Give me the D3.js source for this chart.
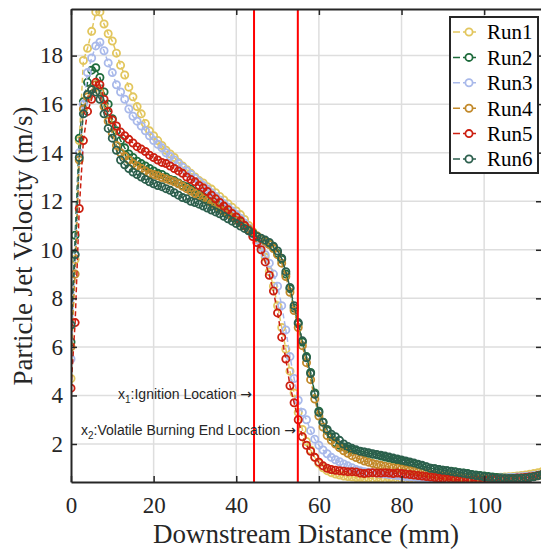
<!DOCTYPE html>
<html>
<head>
<meta charset="utf-8">
<script src="https://cdn.jsdelivr.net/npm/d3@7"></script>
<style>
  body { margin: 0; background: #fff; }
  svg { display: block; }
  .serif { font-family: "Liberation Serif", "Times New Roman", serif; }
  .sans { font-family: "Liberation Sans", Arial, sans-serif; }
</style>
</head>
<body>
<svg id="chart" width="541" height="550"></svg>
<script>
"use strict";

// downstream distance of each sample (mm)
const distance = [
  0, 1, 2, 3, 4, 5, 6, 7, 8, 9,
  10, 11, 12, 13, 14, 15, 16, 17, 18, 19,
  20, 21, 22, 23, 24, 25, 26, 27, 28, 29,
  30, 31, 32, 33, 34, 35, 36, 37, 38, 39,
  40, 41, 42, 43, 44, 45, 46, 47, 48, 49,
  50, 51, 52, 53, 54, 55, 56, 57, 58, 59,
  60, 61, 62, 63, 64, 65, 66, 67, 68, 69,
  70, 71, 72, 73, 74, 75, 76, 77, 78, 79,
  80, 81, 82, 83, 84, 85, 86, 87, 88, 89,
  90, 91, 92, 93, 94, 95, 96, 97, 98, 99,
  100, 101, 102, 103, 104, 105, 106, 107, 108, 109,
  110, 111, 112, 113, 114
];

// particle jet velocity (m/s), one list per run
const run1 = [
  4.7, 9.6, 14.5, 17.8, 18.3, 19.0, 19.8, 19.8, 19.3, 18.9,
  18.6, 18.1, 17.6, 17.2, 16.7, 16.3, 15.9, 15.6, 15.2, 14.9,
  14.7, 14.5, 14.3, 14.1, 13.95, 13.8, 13.6, 13.45, 13.3, 13.15,
  13.0, 12.85, 12.75, 12.6, 12.5, 12.35, 12.2, 12.05, 11.9, 11.75,
  11.6, 11.45, 11.25, 11.0, 10.75, 10.45, 10.15, 9.7, 9.1, 8.5,
  7.7, 6.8, 5.9, 5.0, 4.1, 3.3, 2.6, 2.1, 1.75, 1.45,
  1.2, 1.02, 0.9, 0.82, 0.76, 0.72, 0.68, 0.66, 0.64, 0.62,
  0.62, 0.6, 0.6, 0.58, 0.6, 0.58, 0.56, 0.58, 0.56, 0.55,
  0.56, 0.55, 0.56, 0.54, 0.55, 0.56, 0.55, 0.54, 0.55, 0.56,
  0.55, 0.56, 0.55, 0.56, 0.57, 0.56, 0.57, 0.58, 0.57, 0.58,
  0.6, 0.6, 0.62, 0.62, 0.63, 0.64, 0.65, 0.66, 0.68, 0.7,
  0.72, 0.75, 0.78, 0.82, 0.86
];
const run2 = [
  6.2, 10.6, 14.6, 16.1, 16.9, 17.4, 17.5, 17.1, 16.5, 16.0,
  15.4, 14.9, 14.5, 14.2, 13.95, 13.8, 13.65, 13.55, 13.45, 13.35,
  13.25, 13.15, 13.1, 13.0, 12.9, 12.85, 12.75, 12.65, 12.6, 12.5,
  12.4, 12.3, 12.2, 12.1, 12.0, 11.9, 11.8, 11.65, 11.55, 11.4,
  11.3, 11.15, 11.0, 10.85, 10.7, 10.55, 10.45, 10.35, 10.25, 10.1,
  9.85, 9.6, 9.0, 8.4, 7.6, 6.95, 6.2, 5.6, 4.95, 4.1,
  3.35, 2.9, 2.55, 2.3, 2.05, 1.95, 1.88, 1.8, 1.75, 1.72,
  1.69, 1.66, 1.62, 1.58, 1.55, 1.5, 1.46, 1.42, 1.38, 1.34,
  1.3, 1.26, 1.22, 1.18, 1.14, 1.1, 1.05, 1.0, 0.98, 0.95,
  0.92, 0.9, 0.88, 0.86, 0.82, 0.8, 0.78, 0.74, 0.72, 0.7,
  0.68, 0.66, 0.64, 0.62, 0.62, 0.6, 0.6, 0.6, 0.6, 0.6,
  0.62, 0.64, 0.66, 0.7, 0.74
];
const run3 = [
  5.5, 9.8, 14.0, 16.0, 17.3, 17.9, 18.4, 18.55, 18.2, 17.7,
  17.3, 16.8, 16.5, 16.2, 15.8, 15.5, 15.3, 15.1, 14.9, 14.7,
  14.5, 14.35, 14.2, 14.0, 13.85, 13.7, 13.55, 13.4, 13.25, 13.1,
  12.95, 12.8, 12.65, 12.5, 12.35, 12.2, 12.05, 11.9, 11.75, 11.6,
  11.45, 11.3, 11.1, 10.9, 10.65, 10.4, 10.1, 9.8, 9.45, 9.0,
  8.5, 7.7, 6.7, 5.6, 4.7, 3.8, 3.3, 3.0, 2.55, 2.2,
  1.95, 1.75, 1.6, 1.45, 1.35, 1.27, 1.18, 1.1, 1.02, 0.95,
  0.9, 0.86, 0.84, 0.82, 0.8, 0.78, 0.76, 0.74, 0.72, 0.7,
  0.68, 0.66, 0.65, 0.64, 0.62, 0.62, 0.6, 0.6, 0.58, 0.58,
  0.57, 0.56, 0.56, 0.55, 0.55, 0.54, 0.55, 0.54, 0.55, 0.56,
  0.56, 0.57, 0.58, 0.58, 0.6, 0.6, 0.62, 0.62, 0.64, 0.65,
  0.66, 0.68, 0.7, 0.72, 0.74
];
const run4 = [
  6.0, 9.0, 13.7, 15.8, 16.3, 16.6, 16.8, 16.5, 15.9, 15.3,
  14.8, 14.3, 14.0, 13.85, 13.7, 13.55, 13.45, 13.35, 13.25, 13.15,
  13.1, 13.05, 12.98, 12.92, 12.86, 12.8, 12.72, 12.62, 12.52, 12.42,
  12.32, 12.22, 12.12, 12.02, 11.92, 11.82, 11.7, 11.58, 11.46, 11.34,
  11.22, 11.1, 10.98, 10.86, 10.72, 10.58, 10.45, 10.35, 10.22, 10.05,
  9.8, 9.45, 8.9, 8.25, 7.5, 6.8, 6.05, 5.35, 4.65, 3.85,
  3.15, 2.7, 2.35, 2.15, 2.0, 1.85, 1.72, 1.62, 1.52, 1.44,
  1.37, 1.3, 1.25, 1.2, 1.16, 1.12, 1.08, 1.05, 1.02, 1.0,
  0.97, 0.94, 0.91, 0.88, 0.85, 0.82, 0.79, 0.76, 0.73, 0.7,
  0.68, 0.66, 0.64, 0.62, 0.61, 0.6, 0.59, 0.58, 0.58, 0.57,
  0.57, 0.56, 0.56, 0.56, 0.57, 0.57, 0.58, 0.58, 0.59, 0.6,
  0.62, 0.64, 0.66, 0.69, 0.72
];
const run5 = [
  4.3, 7.0, 11.7, 14.5, 15.7, 16.2, 16.9, 16.8, 16.2, 15.7,
  15.35, 15.1, 14.85, 14.7, 14.55, 14.4, 14.25, 14.15, 14.05, 13.9,
  13.8, 13.7, 13.6, 13.55, 13.45, 13.35, 13.25, 13.15, 13.0, 12.9,
  12.8, 12.65, 12.55, 12.4, 12.25, 12.1, 11.95, 11.8, 11.65, 11.5,
  11.35, 11.2, 11.0, 10.8, 10.55, 10.3, 10.0, 9.5, 8.95, 8.3,
  7.4, 6.4, 5.5, 4.4, 3.7, 3.0, 2.3, 1.95, 1.7, 1.45,
  1.25, 1.1, 1.0, 0.95, 0.92, 0.9, 0.88, 0.86, 0.86, 0.85,
  0.8, 0.78, 0.8, 0.82, 0.8, 0.8, 0.82, 0.8, 0.78, 0.8,
  0.78, 0.76, 0.74, 0.72, 0.7, 0.68, 0.66, 0.64, 0.62, 0.6,
  0.58, 0.56, 0.55, 0.54, 0.52, 0.52, 0.5, 0.5, 0.51, 0.5,
  0.52, 0.52, 0.53, 0.54, 0.55, 0.55, 0.56, 0.58, 0.6, 0.6,
  0.62, 0.64, 0.66, 0.7, 0.74
];
const run6 = [
  6.9, 9.8, 13.8, 15.6, 16.4, 16.6, 16.5, 16.2, 15.6, 15.0,
  14.6, 14.1, 13.7, 13.5, 13.35, 13.2, 13.1, 13.0, 12.9, 12.8,
  12.72, 12.65, 12.6, 12.52, 12.45, 12.35, 12.25, 12.15, 12.1, 12.0,
  11.95, 11.88, 11.8, 11.72, 11.64, 11.56, 11.48, 11.38, 11.28, 11.18,
  11.08, 10.98, 10.88, 10.78, 10.68, 10.55, 10.48, 10.4, 10.3, 10.15,
  9.95, 9.65, 9.1, 8.45, 7.7, 7.0, 6.25, 5.55, 4.9, 4.05,
  3.3, 2.9, 2.6, 2.4, 2.3, 2.15, 2.0, 1.9, 1.82, 1.76,
  1.7, 1.67, 1.64, 1.6, 1.57, 1.54, 1.5, 1.46, 1.42, 1.38,
  1.34, 1.3, 1.26, 1.22, 1.17, 1.12, 1.06, 1.0, 0.98, 0.95,
  0.92, 0.9, 0.87, 0.84, 0.82, 0.79, 0.76, 0.73, 0.7, 0.68,
  0.65, 0.63, 0.61, 0.59, 0.58, 0.58, 0.58, 0.58, 0.58, 0.59,
  0.6, 0.62, 0.65, 0.69, 0.74
];

const runNames = ['Run1', 'Run2', 'Run3', 'Run4', 'Run5', 'Run6'];
const runColors = ['#e2c65e', '#1e6b3c', '#a9b9ea', '#c2892a', '#cc1f10', '#2c5f4d'];

const xTicks = [0, 20, 40, 60, 80, 100];
const yTicks = [2, 4, 6, 8, 10, 12, 14, 16, 18];

// x1 ignition, x2 volatile burning end (mm)
const locationLines = [44.3, 54.9];
const locationLabels = [
  { sub: '1', text: ':Ignition Location ' },
  { sub: '2', text: ':Volatile Burning End Location ' }
];

const ink = '#262626';

const svg = d3.select('#chart');

const x = d3.scaleLinear().domain([0, 114]).range([71, 542]);
const y = d3.scaleLinear().domain([0.434, 19.92]).range([482, 9]);

// clip for the plotted series
svg.append('defs').append('clipPath').attr('id', 'plot-clip')
  .append('rect')
  .attr('x', 71).attr('y', 9)
  .attr('width', 471).attr('height', 473);

// grid
const grid = svg.append('g').attr('stroke', '#dedede').attr('stroke-width', 1.5);
grid.selectAll('.gx').data(xTicks.filter((d) => d > 0)).join('line')
  .attr('x1', (d) => x(d)).attr('x2', (d) => x(d))
  .attr('y1', y.range()[1]).attr('y2', y.range()[0]);
grid.selectAll('.gy').data(yTicks).join('line')
  .attr('y1', (d) => y(d)).attr('y2', (d) => y(d))
  .attr('x1', x.range()[0]).attr('x2', x.range()[1]);

// series
const plot = svg.append('g').attr('clip-path', 'url(#plot-clip)');
const line = d3.line().x((d) => x(d[0])).y((d) => y(d[1]));

[run1, run2, run3, run4, run5, run6].forEach((values, i) => {
  const points = distance.map((d, j) => [d, values[j]]);
  const g = plot.append('g');

  g.append('path').datum(points)
    .attr('d', line)
    .attr('fill', 'none')
    .attr('stroke', runColors[i])
    .attr('stroke-width', 1.5)
    .attr('stroke-dasharray', '5,3');

  g.selectAll('circle').data(points).join('circle')
    .attr('cx', (d) => x(d[0]))
    .attr('cy', (d) => y(d[1]))
    .attr('r', 3.6)
    .attr('fill', 'none')
    .attr('stroke', runColors[i])
    .attr('stroke-width', 1.8);
});

// location lines
svg.append('g').selectAll('line').data(locationLines).join('line')
  .attr('x1', (d) => x(d)).attr('x2', (d) => x(d))
  .attr('y1', y.range()[1]).attr('y2', y.range()[0])
  .attr('stroke', '#ff0000')
  .attr('stroke-width', 2);

// annotations
const notes = svg.append('g')
  .attr('class', 'sans')
  .style('font-size', '14px')
  .attr('fill', ink);
const notePos = [[118, 399], [81, 435]];
locationLabels.forEach((d, i) => {
  const t = notes.append('text').attr('x', notePos[i][0]).attr('y', notePos[i][1]);
  t.append('tspan').text('x');
  t.append('tspan').style('font-size', '10px').attr('dy', 4).text(d.sub);
  t.append('tspan').attr('dy', -4).text(d.text);
  t.append('tspan').style('font-family', '"DejaVu Sans", sans-serif').text('\u2192');
});

// axes (ticks pointing inward, box on all four sides)
const styleAxis = (g) => {
  g.attr('font-family', null).attr('font-size', null);
  g.select('.domain').attr('stroke', ink).attr('stroke-width', 2);
  g.selectAll('.tick line').attr('stroke', ink).attr('stroke-width', 1.5);
  g.selectAll('.tick text')
    .attr('class', 'serif')
    .attr('fill', ink)
    .style('font-size', '23px');
};

svg.append('g')
  .attr('transform', 'translate(0,482)')
  .call(d3.axisBottom(x).tickValues(xTicks).tickSizeInner(-6).tickSizeOuter(0).tickPadding(15))
  .call(styleAxis);

svg.append('g')
  .attr('transform', 'translate(0,9)')
  .call(d3.axisTop(x).tickValues(xTicks).tickSizeInner(-6).tickSizeOuter(0).tickFormat(''))
  .call(styleAxis);

svg.append('g')
  .attr('transform', 'translate(71,0)')
  .call(d3.axisLeft(y).tickValues(yTicks).tickSizeInner(-6).tickSizeOuter(0).tickPadding(8))
  .call(styleAxis);

svg.append('g')
  .attr('transform', 'translate(542,0)')
  .call(d3.axisRight(y).tickValues(yTicks).tickSizeInner(-6).tickSizeOuter(0).tickFormat(''))
  .call(styleAxis);

// axis titles
svg.append('text')
  .attr('class', 'serif')
  .attr('x', 306).attr('y', 543)
  .attr('text-anchor', 'middle')
  .style('font-size', '27px')
  .attr('fill', ink)
  .text('Downstream Distance (mm)');

svg.append('text')
  .attr('class', 'serif')
  .attr('transform', 'translate(32,246) rotate(-90)')
  .attr('text-anchor', 'middle')
  .style('font-size', '27px')
  .attr('fill', ink)
  .text('Particle Jet Velocity (m/s)');

// legend
const legend = svg.append('g').attr('transform', 'translate(450,17)');
legend.append('rect')
  .attr('width', 88).attr('height', 156)
  .attr('fill', '#fff')
  .attr('stroke', ink)
  .attr('stroke-width', 2);

const rows = legend.selectAll('.row').data(runNames).join('g')
  .attr('transform', (d, i) => `translate(0,${15 + i * 25.4})`);
rows.append('line')
  .attr('x1', 3).attr('x2', 26)
  .attr('stroke', (d, i) => runColors[i])
  .attr('stroke-width', 1.5)
  .attr('stroke-dasharray', '7,3');
rows.append('circle')
  .attr('cx', 19).attr('r', 3.6)
  .attr('fill', '#fff')
  .attr('stroke', (d, i) => runColors[i])
  .attr('stroke-width', 1.8);
rows.append('text')
  .attr('class', 'serif')
  .attr('x', 37).attr('dy', '0.35em')
  .style('font-size', '21px')
  .attr('fill', '#000')
  .text((d) => d);
</script>
</body>
</html>
